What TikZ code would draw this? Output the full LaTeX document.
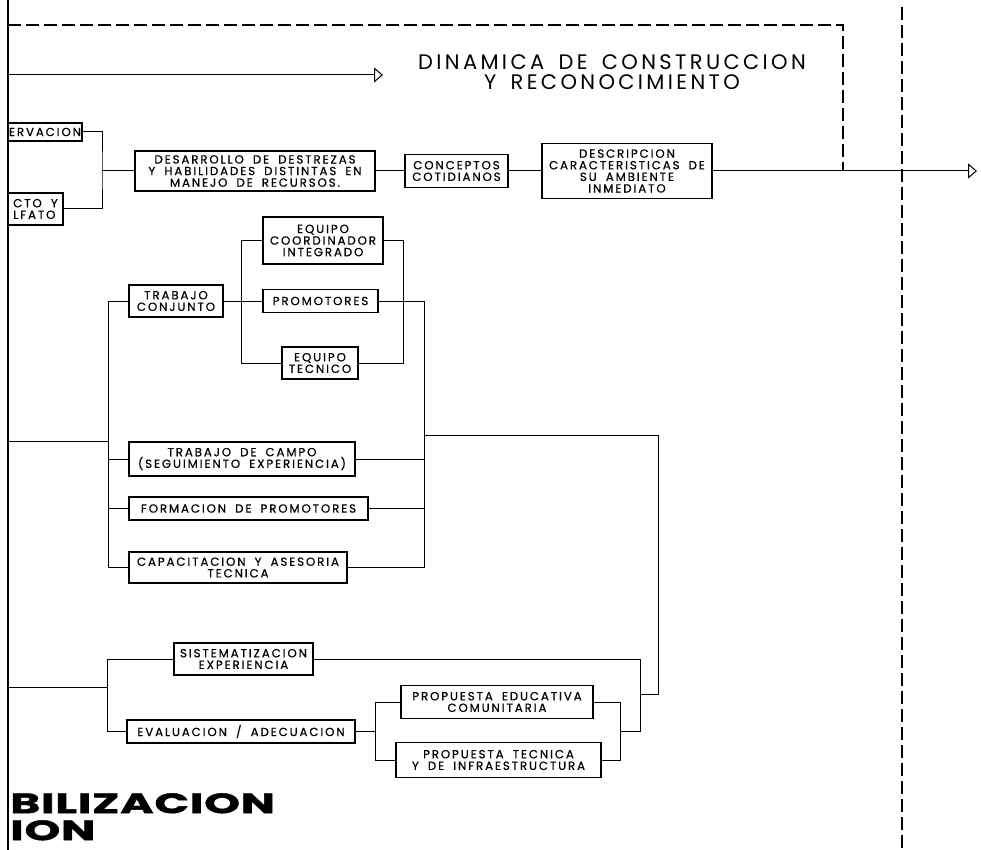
\documentclass[tikz,border=0pt]{standalone}
\usepackage{fontspec}
\usetikzlibrary{arrows.meta}
\newfontfamily\cajafont[LetterSpace=16,WordSpace=1.8,FakeBold=0.6]{Poppins}
\newfontfamily\titfont[LetterSpace=16,WordSpace=1.6]{Poppins}
\newfontfamily\negfont[LetterSpace=2,BoldFeatures={FakeBold=1.5}]{Poppins}
\newcommand{\txtcaja}{\cajafont\fontsize{11.8}{11.6}\selectfont}
\newcommand{\txttitulo}{\titfont\fontsize{21}{20}\selectfont}
\newcommand{\txtnegro}{\negfont\bfseries\fontsize{28}{27}\selectfont}

\begin{document}
\begin{tikzpicture}[x=1pt,y=-1pt,
	caja/.style={draw,line width=1.3pt,inner sep=1pt,align=center,font=\txtcaja},
	linea/.style={line width=1pt},
	flecha/.style={line width=1pt,-{Triangle[open,length=9pt,width=15pt,line width=1pt]}},
	trazo/.style={line width=1.2pt,dash pattern=on 13pt off 5pt}]
	\useasboundingbox (0,0) rectangle (981,850);
	% bordes
	\draw[line width=1.5pt] (8,0) -- (8,850);
	\draw[trazo] (8,25) -- (843,25) -- (843,170);
	\draw[trazo] (902,7) -- (902,850);
	\node (titulo) [font=\txttitulo,align=center] at (612,72) {DINAMICA DE CONSTRUCCION\\Y RECONOCIMIENTO};
	\coordinate (ini) at (8,75);
	\coordinate (fin) at (383,75);
	\draw[flecha] (ini) -- (fin);
	% fila superior
	\node (obs) [caja,minimum width=74,minimum height=18] at (45,132) {ERVACION};
	\node (olf) [caja,align=left,minimum width=55,minimum height=32] at (35.5,209) {CTO Y\\LFATO};
	\node (desa) [caja,minimum width=240,minimum height=40] at (255,171) {DESARROLLO DE DESTREZAS\\Y HABILIDADES DISTINTAS EN\\MANEJO DE RECURSOS.};
	\node (conc) [caja,minimum width=103,minimum height=33] at (456.5,171) {CONCEPTOS\\COTIDIANOS};
	\node (desc) [caja,minimum width=170,minimum height=55] at (627,171) {DESCRIPCION\\CARACTERISTICAS DE\\SU AMBIENTE\\INMEDIATO};
	\coordinate (j1) at (102,171);
	\coordinate (sal) at (977,171);
	\draw[linea] (obs.east) -| (j1) |- (olf.east);
	\draw[linea] (j1) -- (desa.west);
	\draw[linea] (desa) -- (conc);
	\draw[linea] (conc) -- (desc);
	\draw[flecha] (desc.east) -- (sal);
	% trabajo
	\node (coord) [caja,minimum width=120,minimum height=47] at (323,240.5) {EQUIPO\\COORDINADOR\\INTEGRADO};
	\node (prom) [caja,minimum width=115,minimum height=23] at (320.5,301) {PROMOTORES};
	\node (tecn) [caja,minimum width=76,minimum height=32] at (320,363) {EQUIPO\\TECNICO};
	\node (conj) [caja,minimum width=94,minimum height=32] at (176,301) {TRABAJO\\CONJUNTO};
	\node (campo) [caja,minimum width=226,minimum height=34] at (242,459) {TRABAJO DE CAMPO\\(SEGUIMIENTO EXPERIENCIA)};
	\node (form) [caja,minimum width=239,minimum height=23] at (248.5,508.5) {FORMACION DE PROMOTORES};
	\node (capa) [caja,minimum width=218,minimum height=31] at (238,567.5) {CAPACITACION Y ASESORIA\\TECNICA};
	\coordinate (a) at (242,301);
	\coordinate (b) at (403,301);
	\coordinate (c) at (424,301);
	\coordinate (d) at (424,435);
	\coordinate (k) at (640,694);
	\coordinate (t) at (109,441);
	\coordinate (l2) at (8,441);
	\draw[linea] (conj.east) -- (a);
	\draw[linea] (coord.west) -- ++(-21,0) |- (tecn.west);
	\draw[linea] (a) -- (prom.west);
	\draw[linea] (coord.east) -- ++(20,0) |- (tecn.east);
	\draw[linea] (prom.east) -- (c) |- (capa.east);
	\draw[linea] (campo.east) -- (campo.east -| c);
	\draw[linea] (form.east) -- (form.east -| c);
	\draw[linea] (d) -- ++(234,0) |- (k);
	\draw[linea] (conj.west) -- ++(-20,0) |- (capa.west);
	\draw[linea] (campo.west) -- ++(-20,0);
	\draw[linea] (form.west) -- ++(-20,0);
	\draw[linea] (l2) -- (t);
	% sistematizacion
	\node (sist) [caja,minimum width=139,minimum height=32] at (243.5,659) {SISTEMATIZACION\\EXPERIENCIA};
	\node (eval) [caja,minimum width=228,minimum height=23] at (241,731.5) {EVALUACION / ADECUACION};
	\node (pedu) [caja,minimum width=192,minimum height=33] at (497,702) {PROPUESTA EDUCATIVA\\COMUNITARIA};
	\node (ptec) [caja,minimum width=205,minimum height=35] at (498.5,760) {PROPUESTA TECNICA\\Y DE INFRAESTRUCTURA};
	\coordinate (s) at (107,687);
	\coordinate (l3) at (8,687);
	\coordinate (m) at (620,731.5);
	\coordinate (n) at (376,731.5);
	\draw[linea] (l3) -- (s);
	\draw[linea] (sist.west) -| (s);
	\draw[linea] (eval.west) -| (s);
	\draw[linea] (sist.east) -| (k |- m) -- (m);
	\draw[linea] (pedu.east) -- ++(27,0) |- (ptec.east);
	\draw[linea] (pedu.west) -- ++(-25,0) |- (ptec.west);
	\draw[linea] (eval.east) -- (n);
	\node (mov) [anchor=north west,font=\txtnegro,align=left,inner sep=0pt,xscale=1.62,transform shape] at (10,793) {BILIZACION\\ION};
\end{tikzpicture}
\end{document}
